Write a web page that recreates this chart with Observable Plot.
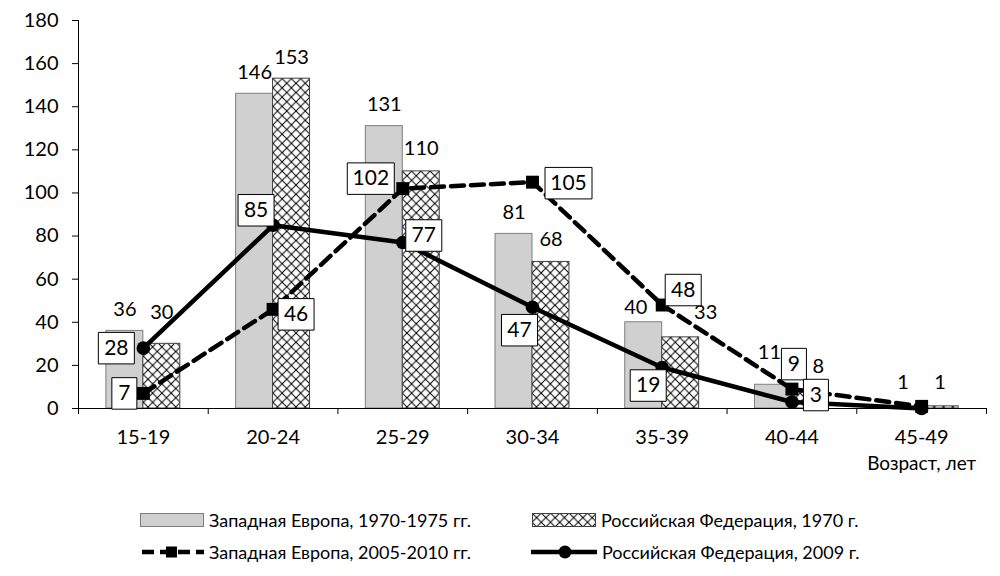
<!DOCTYPE html>
<html>
<head>
<meta charset="utf-8">
<script src="https://cdn.jsdelivr.net/npm/d3@7"></script>
<script src="https://cdn.jsdelivr.net/npm/@observablehq/plot@0.6"></script>
<style>
  body { margin: 0; background: #fff; font-family: Lato, "Open Sans", sans-serif; }
  #wrap { position: relative; width: 1000px; height: 576px; overflow: hidden; }
  .leg { position: absolute; display: flex; align-items: center; font-size: 18px; color: #000; white-space: nowrap; transform: translateY(-50%); }
  .leg svg { margin-right: 5px; }
</style>
</head>
<body>
<svg width="0" height="0" style="position:absolute">
  <defs>
    <pattern id="xhatch" patternUnits="userSpaceOnUse" width="9.25" height="9.25">
      <rect width="9.25" height="9.25" fill="#fff"/>
      <path d="M0,0L9.25,9.25M9.25,0L0,9.25" stroke="#000" stroke-width="1"/>
    </pattern>
  </defs>
</svg>
<div id="wrap"><div id="chart"></div></div>
<script>
// ---- data ----
const categories = ["15-19", "20-24", "25-29", "30-34", "35-39", "40-44", "45-49"];
const westEurope1970 = [36, 146, 131, 81, 40, 11, 1];
const russia1970 = [30, 153, 110, 68, 33, 8, 1];
const westEurope2005 = [7, 46, 102, 105, 48, 9, 1];
const russia2009 = [28, 85, 77, 47, 19, 3, 0];
const yTicks = [0, 20, 40, 60, 80, 100, 120, 140, 160, 180];
const seriesNames = [
  "Западная Европа, 1970-1975 гг.",
  "Российская Федерация, 1970 г.",
  "Западная Европа, 2005-2010 гг.",
  "Российская Федерация, 2009 г."
];
const axisTitle = "Возраст, лет";

// ---- layout / style (label nudges in px, not data) ----
const barW = 0.285;
const greyLabelNudge = [[0,-21],[0,-21],[0,-22],[0,-21],[-8,-15],[-4,-32],[0,-24]];
const hatchLabelNudge = [[0,-31],[0,-21],[0,-23],[0,-22],[25,-25],[8,-25],[0,-24]];
const w05BoxNudge = [[-19,0],[23,5],[-32,-10],[36,1],[21,-15],[2,-25],null];
const r09BoxNudge = [[-27,0],[-17,-15],[21,-7],[-13,23],[-14,18],[24,-7],null];

const n = categories.length;
const rows = arr => arr.map((v, i) => ({i, v}));
const grey = rows(westEurope1970);
const hatch = rows(russia1970);
const w05 = rows(westEurope2005);
const r09 = rows(russia2009);

const FONT = "Lato, 'Open Sans', sans-serif";

function boxSymbol(w, h) {
  return { draw(ctx) { ctx.rect(-w / 2, -h / 2, w, h); } };
}

function barLabels(data, offsetX, nudges) {
  return data.map((d, k) => Plot.text([d], {
    x: e => e.i + offsetX, y: "v", text: e => String(e.v),
    dx: nudges[k][0], dy: nudges[k][1], fontSize: 20, fill: "#000"
  }));
}

function boxLabels(data, nudges) {
  const out = [];
  data.forEach((d, k) => {
    if (!nudges[k]) return;
    const s = String(d.v);
    const w = 14 + 11 * s.length;
    out.push(Plot.dot([d], {x: "i", y: "v", symbol: boxSymbol(w, 31.5), r: 5,
      fill: "#fff", stroke: "#000", strokeWidth: 1, dx: nudges[k][0], dy: nudges[k][1]}));
    out.push(Plot.text([d], {x: "i", y: "v", text: e => String(e.v),
      dx: nudges[k][0], dy: nudges[k][1], fontSize: 21, fill: "#000"}));
  });
  return out;
}

const plot = Plot.plot({
  width: 1000,
  height: 480,
  marginTop: 20,
  marginBottom: 72,
  marginLeft: 78,
  marginRight: 14,
  style: {fontFamily: FONT, fontSize: "20px", color: "#000", background: "#fff"},
  x: {type: "linear", domain: [-0.5, n - 0.5]},
  y: {domain: [0, 180]},
  marks: [
    Plot.rect(grey, {x1: d => d.i - barW, x2: "i", y1: 0, y2: "v", fill: "#d0d0d0", stroke: "#7f7f7f", strokeWidth: 1}),
    Plot.rect(hatch, {x1: "i", x2: d => d.i + barW, y1: 0, y2: "v", fill: "url(#xhatch)", stroke: "#404040", strokeWidth: 1}),
    Plot.ruleY([0], {stroke: "#000", strokeWidth: 1}),
    Plot.ruleX([-0.5], {stroke: "#000", strokeWidth: 1}),
    Plot.axisY({ticks: yTicks, tickSize: 6, tickPadding: 14, label: null, fontSize: 20}),
    Plot.axisX({ticks: d3.range(-0.5, n, 1), tickSize: 6, tickFormat: () => "", label: null}),
    Plot.axisX({ticks: d3.range(n), tickSize: 0, tickPadding: 21, tickFormat: i => categories[i], label: null, fontSize: 20}),
    Plot.text([axisTitle], {x: n - 1, y: 0, text: d => d, dy: 55, fontSize: 19, fill: "#000"}),
    Plot.line(w05, {x: "i", y: "v", stroke: "#000", strokeWidth: 4.5, strokeDasharray: "13,7"}),
    Plot.line(r09, {x: "i", y: "v", stroke: "#000", strokeWidth: 4.5}),
    Plot.dot(w05, {x: "i", y: "v", symbol: "square", r: 7.3, fill: "#000"}),
    Plot.dot(r09, {x: "i", y: "v", r: 6.8, fill: "#000"}),
    ...barLabels(grey, -barW / 2, greyLabelNudge),
    ...barLabels(hatch, barW / 2, hatchLabelNudge),
    ...boxLabels(w05, w05BoxNudge),
    ...boxLabels(r09, r09BoxNudge)
  ]
});
document.getElementById("chart").appendChild(plot);

// ---- legend ----
const wrap = document.getElementById("wrap");
const swatches = [
  `<svg width="64" height="14"><rect x="0.5" y="0.5" width="63" height="13" fill="#d0d0d0" stroke="#7f7f7f"/></svg>`,
  `<svg width="64" height="14"><rect x="0.5" y="0.5" width="63" height="13" fill="url(#xhatch)" stroke="#404040"/></svg>`,
  `<svg width="64" height="14"><line x1="0" y1="7" x2="64" y2="7" stroke="#000" stroke-width="4.5" stroke-dasharray="12,6" stroke-dashoffset="-2"/><rect x="26" y="1.5" width="11" height="11" fill="#000"/></svg>`,
  `<svg width="66" height="16"><line x1="0" y1="8" x2="66" y2="8" stroke="#000" stroke-width="4.5"/><circle cx="34" cy="8" r="6.5" fill="#000"/></svg>`
];
const legPos = [[140, 519.5], [532, 519.5], [140, 552], [531, 552]];
seriesNames.forEach((name, k) => {
  const div = document.createElement("div");
  div.className = "leg";
  div.style.left = legPos[k][0] + "px";
  div.style.top = legPos[k][1] + "px";
  div.innerHTML = swatches[k] + `<span>${name}</span>`;
  wrap.appendChild(div);
});
</script>
</body>
</html>
